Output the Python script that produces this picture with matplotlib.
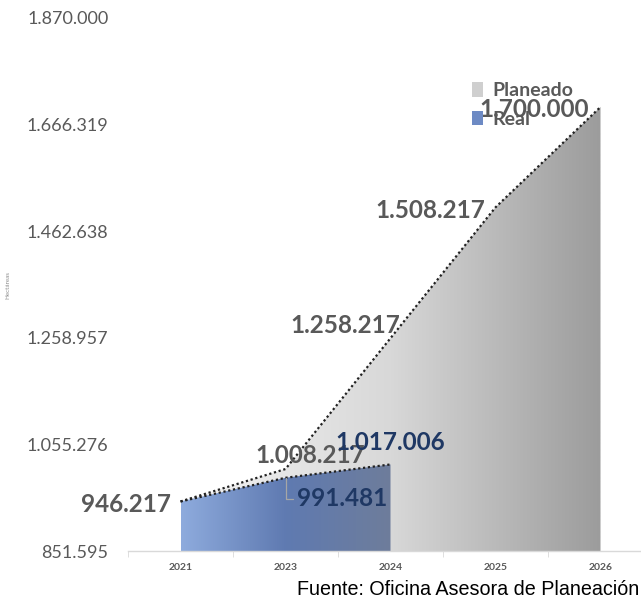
import matplotlib

matplotlib.use("Agg")

import matplotlib.pyplot as plt  # noqa: E402
import numpy as np  # noqa: E402
from matplotlib.colors import LinearSegmentedColormap  # noqa: E402
from matplotlib.patches import Patch  # noqa: E402

# ── data ─────────────────────────────────────────────────────────────────────
years = ["2021", "2023", "2024", "2025", "2026"]
planeado = [946217, 1008217, 1258217, 1508217, 1700000]
real = [946217, 991481, 1017006]
y_ticks = [851595, 1055276, 1258957, 1462638, 1666319, 1870000]

GRAY_TXT = "#595959"
NAVY = "#1f3864"


def fmt(v):
    return f"{v:,}".replace(",", ".")


def gradient_area(ax, x, y, base, colors, z):
    """Area under (x, y) filled with a left-to-right colour gradient."""
    poly = ax.fill_between(x, y, base, facecolor="none", edgecolor="none")
    path = poly.get_paths()[0]
    cmap = LinearSegmentedColormap.from_list("g", colors)
    im = ax.imshow(
        np.linspace(0, 1, 256).reshape(1, -1),
        cmap=cmap,
        aspect="auto",
        origin="lower",
        extent=[x[0], x[-1], base, max(y)],
        zorder=z,
        interpolation="bilinear",
    )
    im.set_clip_path(path, transform=ax.transData)


fig = plt.figure(figsize=(6.41, 6.01), dpi=100)
ax = fig.add_axes([128 / 641, 50 / 601, 525 / 641, 533 / 601])

xp = np.arange(len(planeado))
xr = np.arange(len(real))
base = y_ticks[0]

gradient_area(ax, xp, planeado, base, ["#f4f4f4", "#d8d8d8", "#9c9c9c"], 1)
gradient_area(ax, xr, real, base, ["#8eabdd", "#5f7ab1", "#6e7d9b"], 2)

dot = dict(color="#222222", lw=1.6, linestyle=(0, (1, 1.2)), zorder=3)
ax.plot(xp, planeado, **dot)
ax.plot(xr, real, **dot)

ax.set_xlim(-0.5, 4.5)
ax.set_ylim(y_ticks[0], y_ticks[-1])

# ── data labels ──────────────────────────────────────────────────────────────
lab = dict(fontsize=17.5, fontweight="bold", family="Lato", zorder=5)
plan_offsets = [(-9, -3, "right"), (-30, 14, "left"), (10, 13, "right"),
                (-10, -3, "right"), (-12, -3, "right")]
for i, (dx, dy, ha) in enumerate(plan_offsets):
    ax.annotate(fmt(planeado[i]), (xp[i], planeado[i]), xytext=(dx, dy),
                textcoords="offset pixels", ha=ha, va="center",
                color=GRAY_TXT, **lab)

ax.annotate(fmt(real[1]), (xr[1], real[1]), xytext=(12, -21),
            textcoords="offset pixels", ha="left", va="center", color=NAVY,
            arrowprops=dict(arrowstyle="-", color="#a6a6a6", lw=0.9,
                            shrinkA=1, shrinkB=0,
                            connectionstyle="angle,angleA=0,angleB=90,rad=0"),
            **lab)
ax.annotate(fmt(real[2]), (xr[2], real[2]), xytext=(0, 22),
            textcoords="offset pixels", ha="center", va="center",
            color=NAVY, **lab)

# ── axes styling ─────────────────────────────────────────────────────────────
for s in ["left", "right", "top"]:
    ax.spines[s].set_visible(False)
ax.spines["bottom"].set_color("#d9d9d9")
ax.spines["bottom"].set_linewidth(1.0)

ax.set_yticks(y_ticks)
ax.set_yticklabels([fmt(v) for v in y_ticks], fontsize=13, family="Lato",
                   color=GRAY_TXT)
ax.tick_params(axis="y", length=0, pad=14)

ax.set_xticks(xp)
ax.set_xticklabels(years, fontsize=7.5, fontweight="bold", family="Lato",
                   color=GRAY_TXT)
ax.set_xticks(np.arange(-0.5, 5, 1), minor=True)
ax.tick_params(axis="x", which="major", length=0, pad=9)
ax.tick_params(axis="x", which="minor", length=4, color="#d9d9d9")

fig.text(8 / 641, 1 - 285 / 601, "Hectáreas", rotation=90, fontsize=4.5,
         color="#8c8c8c", ha="center", va="center", family="Lato")

ax.legend(
    handles=[Patch(facecolor="#cfcfcf"), Patch(facecolor="#6d8ac4")],
    labels=["Planeado", "Real"],
    loc="upper left",
    bbox_to_anchor=(462 / 641, 1 - 72 / 601),
    bbox_transform=fig.transFigure,
    frameon=False,
    borderpad=0,
    handlelength=0.6,
    handleheight=0.8,
    handletextpad=0.45,
    labelspacing=0.6,
    prop=dict(family="Lato", weight="bold", size=14),
    labelcolor=GRAY_TXT,
)

fig.text(0.998, 0.004, "Fuente: Oficina Asesora de Planeación",
         ha="right", va="bottom", fontsize=14.2, color="black",
         family=["Liberation Sans Narrow", "Liberation Sans"])

fig.savefig("out.png", dpi=100)
